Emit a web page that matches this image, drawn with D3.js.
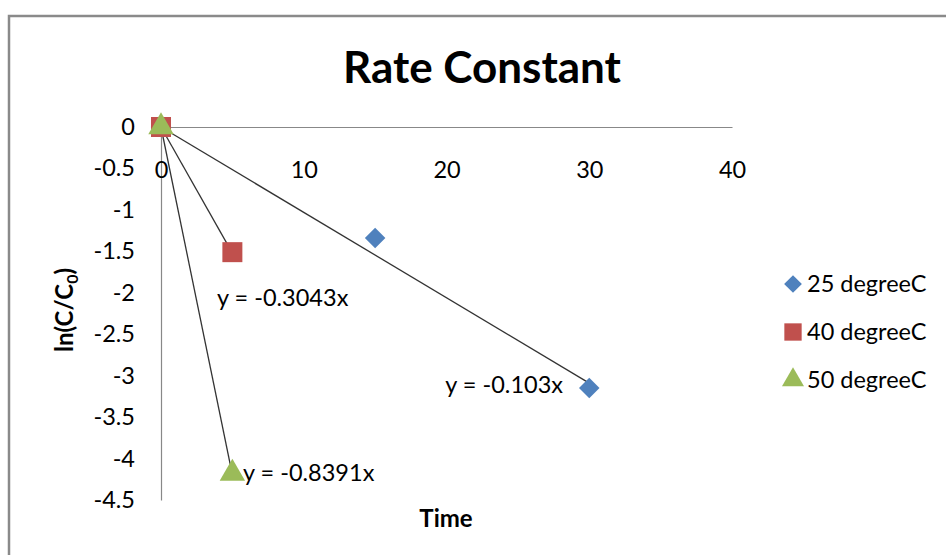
<!DOCTYPE html>
<html>
<head>
<meta charset="utf-8">
<script src="https://cdn.jsdelivr.net/npm/d3@7"></script>
<style>
  html, body { margin: 0; padding: 0; background: #fff; }
  svg { display: block; font-family: Lato, "Open Sans", sans-serif; }
</style>
</head>
<body>
<svg id="chart" width="946" height="555"></svg>
<script>
// Series: time vs ln(C/C0) at three temperatures
const seriesNames = ["25 degreeC", "40 degreeC", "50 degreeC"];
const times25 = [0, 15, 30];
const lnC25 = [0, -1.34, -3.15];
const times40 = [0, 5];
const lnC40 = [0, -1.51];
const times50 = [0, 5];
const lnC50 = [0, -4.18];
// Linear trendlines through the origin (y = slope * x)
const slopes = [-0.103, -0.3043, -0.8391];
const trendLabels = ["y = -0.103x", "y = -0.3043x", "y = -0.8391x"];
const xTicks = [0, 10, 20, 30, 40];
const yTicks = [0, -0.5, -1, -1.5, -2, -2.5, -3, -3.5, -4, -4.5];

const colors = ["#4F81BD", "#C0504D", "#9BBB59"];
const symbols = [d3.symbolSquare, d3.symbolSquare, d3.symbolTriangle];
const symbolRotate = [45, 0, 0];
const symbolSizes = [210, 400, 280];

const svg = d3.select("#chart");

// outer chart frame (top and left edges visible)
svg.append("path")
  .attr("d", "M9,555 V16 H946")
  .attr("fill", "none")
  .attr("stroke", "#8a8a8a")
  .attr("stroke-width", 2.5);

const x = d3.scaleLinear().domain([0, 40]).range([161, 732]);
const y = d3.scaleLinear().domain([-4.5, 0]).range([500, 127]);

// title
svg.append("text")
  .attr("x", 482).attr("y", 83)
  .attr("text-anchor", "middle")
  .attr("font-weight", "bold")
  .attr("font-size", 44)
  .attr("fill", "#000")
  .text("Rate Constant");

const plain = d => String(d);

// y axis: line at x = 0, labels on the left edge of the plot
const yAxis = svg.append("g").attr("transform", `translate(${x(0)},0)`)
  .call(d3.axisLeft(y).tickValues(yTicks).tickSize(0).tickPadding(0).tickFormat(plain));
yAxis.select(".domain").attr("stroke", "#888").attr("stroke-width", 1.2);
yAxis.selectAll("text")
  .attr("x", 135 - x(0))
  .attr("font-size", 23.5)
  .attr("font-family", "Lato, sans-serif")
  .attr("fill", "#000");

// x axis: line at y = 0, labels below it
const xAxis = svg.append("g").attr("transform", `translate(0,${y(0)})`)
  .call(d3.axisBottom(x).tickValues(xTicks).tickSize(0).tickPadding(0).tickFormat(plain));
xAxis.select(".domain").attr("stroke", "#888").attr("stroke-width", 1.2);
xAxis.selectAll("text")
  .attr("y", 51)
  .attr("dy", 0)
  .attr("font-size", 23.5)
  .attr("font-family", "Lato, sans-serif")
  .attr("fill", "#000");

// axis titles
svg.append("text")
  .attr("transform", "translate(73,310) rotate(-90)")
  .attr("text-anchor", "middle")
  .attr("font-weight", "bold")
  .attr("font-size", 24)
  .attr("fill", "#000")
  .call(t => {
    t.append("tspan").text("ln(C/C");
    t.append("tspan").attr("font-size", 16).attr("dy", 5).text("0");
    t.append("tspan").attr("dy", -5).text(")");
  });

svg.append("text")
  .attr("x", 446).attr("y", 527)
  .attr("text-anchor", "middle")
  .attr("font-weight", "bold")
  .attr("font-size", 24)
  .attr("fill", "#000")
  .text("Time");

const series = [
  { xs: times25, ys: lnC25 },
  { xs: times40, ys: lnC40 },
  { xs: times50, ys: lnC50 }
];

// trendlines from origin to the last sample time
series.forEach((s, i) => {
  const xMax = d3.max(s.xs);
  svg.append("line")
    .attr("x1", x(0)).attr("y1", y(0))
    .attr("x2", x(xMax)).attr("y2", y(slopes[i] * xMax))
    .attr("stroke", "#333")
    .attr("stroke-width", 1.3);
});

// markers (drawn in series order so later series sit on top)
series.forEach((s, i) => {
  svg.append("g").selectAll("path")
    .data(s.xs.map((v, k) => [v, s.ys[k]]))
    .join("path")
    .attr("transform", d => `translate(${x(d[0])},${y(d[1])}) rotate(${symbolRotate[i]})`)
    .attr("d", d3.symbol().type(symbols[i]).size(symbolSizes[i]))
    .attr("fill", colors[i]);
});

// trendline equations
const eqPos = [
  { x: 563, y: 393, anchor: "end" },
  { x: 217, y: 306, anchor: "start" },
  { x: 243, y: 481, anchor: "start" }
];
trendLabels.forEach((t, i) => {
  svg.append("text")
    .attr("x", eqPos[i].x).attr("y", eqPos[i].y)
    .attr("text-anchor", eqPos[i].anchor)
    .attr("font-size", 23.5)
    .attr("fill", "#000")
    .text(t);
});

// legend
const legend = svg.append("g");
seriesNames.forEach((name, i) => {
  const cy = 284 + i * 48;
  legend.append("path")
    .attr("transform", `translate(793,${cy}) rotate(${symbolRotate[i]})`)
    .attr("d", d3.symbol().type(symbols[i]).size(symbolSizes[i] * 0.75))
    .attr("fill", colors[i]);
  legend.append("text")
    .attr("x", 807).attr("y", cy + 8)
    .attr("font-size", 23.5)
    .attr("fill", "#000")
    .text(name);
});
</script>
</body>
</html>
